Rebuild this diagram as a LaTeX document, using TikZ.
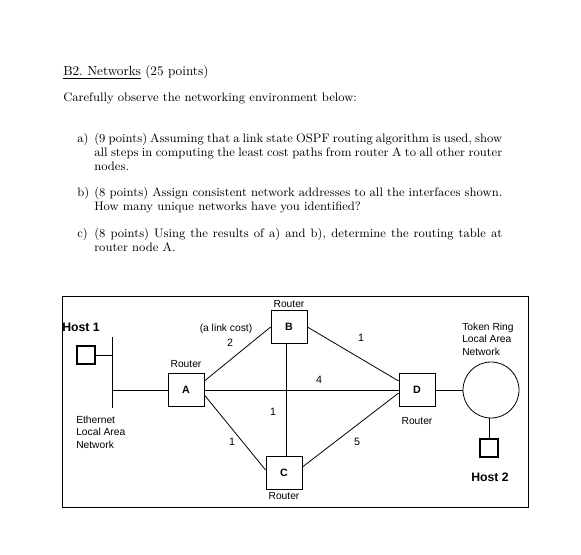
\documentclass[tikz,border=0pt]{standalone}
\usepackage{fontspec}
\newfontfamily\diag{Liberation Sans}
\begin{document}
\begin{tikzpicture}[x=0.75pt,y=-0.75pt,
  router/.style={draw,line width=0.6pt,minimum width=27pt,minimum height=24.5pt,inner sep=0pt,font=\diag\bfseries\fontsize{8}{9}\selectfont},
  hostbox/.style={draw,line width=1.3pt,minimum size=13pt,inner sep=0pt},
  lbl/.style={font=\diag\fontsize{7.7}{9.2}\selectfont,inner sep=0pt},
  cost/.style={font=\diag\fontsize{8}{9}\selectfont,inner sep=0pt},
  hostlbl/.style={font=\diag\bfseries\fontsize{9.2}{11}\selectfont,inner sep=0pt},
  link/.style={line width=0.6pt},
  qtext/.style={inner sep=0pt,font=\fontsize{9.2}{10.4}\selectfont,text width=306pt,align=justify,anchor=base west},
  qlab/.style={inner sep=0pt,font=\fontsize{9.2}{10.4}\selectfont,anchor=base west}]
\useasboundingbox (0,0) rectangle (581,555);
% question text
\node[qlab,font=\fontsize{9.9}{11}\selectfont] (title) at (63,76) {\underline{B2.\ Networks} (25 points)};
\node[qlab] (intro) at (63,102) {Carefully observe the networking environment below:};
\node[qlab] (la) at (77,143) {a)};
\node[qtext] (ta) at (94,143) {(9 points) Assuming that a link state OSPF routing algorithm is used, show\linebreak all steps in computing the least cost paths from router A to all other router\linebreak nodes.};
\node[qlab] (lb) at (77,197) {b)};
\node[qtext] (tb) at (94,197) {(8 points) Assign consistent network addresses to all the interfaces shown.\linebreak How many unique networks have you identified?};
\node[qlab] (lc) at (77,238) {c)};
\node[qtext] (tc) at (94,238) {(8 points) Using the results of a) and b), determine the routing table at\linebreak router node A.};
% frame
\draw[line width=0.6pt] (62,296) rectangle (528,507);
% routers
\node[router] (A) at (186,390) {A};
\node[router] (B) at (289,327) {B};
\node[router] (C) at (284,473) {C};
\node[router] (D) at (417,390) {D};
\node[lbl] (rA) at (186,364) {Router};
\node[lbl] (rB) at (289,304) {Router};
\node[lbl] (rC) at (284,496) {Router};
\node[lbl] (rD) at (417,421) {Router};
% host 1 and ethernet
\node[hostlbl,anchor=west] (h1) at (62,327) {Host 1};
\node[hostbox] (H1) at (86,355) {};
\coordinate (eTop) at (112,337);
\coordinate (eBot) at (112,408);
\coordinate (eH) at (112,355);
\coordinate (eA) at (112,390);
\draw[link] (eTop) -- (eBot);
\draw[link] (H1) -- (eH);
\draw[link] (eA) -- (A);
\node[lbl,anchor=north west,align=left] (eth) at (76,416) {Ethernet\\Local Area\\Network};
% token ring and host 2
\node[draw,circle,line width=0.6pt,minimum size=42pt,inner sep=0pt] (ring) at (491,390) {};
\node[hostbox] (H2) at (489,448) {};
\draw[link] (D) -- (ring);
\draw[link] (ring.south -| H2.north) -- (H2);
\node[lbl,anchor=north west,align=left] (tr) at (462,323) {Token Ring\\Local Area\\Network};
\node[hostlbl] (h2) at (490,477) {Host 2};
% links
\draw[link] (A.east |- 0,381) -- (B.west);
\draw[link] (A) -- (D);
\draw[link] (A.east |- 0,395) -- (C.west |- 0,470);
\draw[link] (B.south -| 286,0) -- (C.north -| 286,0);
\draw[link] (B.east) -- (D.west |- 0,381);
\draw[link] (C.east |- 0,467) -- (D.west |- 0,393);
% costs
\node[lbl] (lc0) at (226,329) {(a link cost)};
\node[cost] (c2) at (230,343) {2};
\node[cost] (c1a) at (361,338) {1};
\node[cost] (c4) at (319,380) {4};
\node[cost] (c1b) at (273,412) {1};
\node[cost] (c1c) at (232,442) {1};
\node[cost] (c5) at (357,442) {5};
\end{tikzpicture}
\end{document}
